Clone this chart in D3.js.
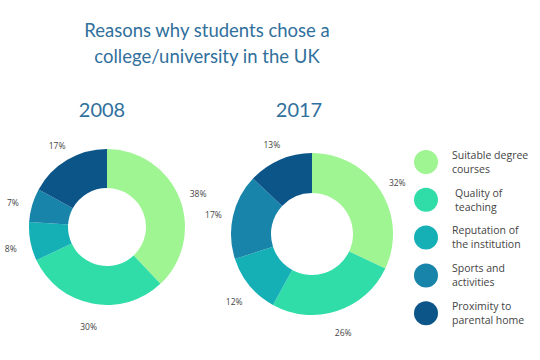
<!DOCTYPE html>
<html>
<head>
<meta charset="utf-8">
<script src="https://cdn.jsdelivr.net/npm/d3@7"></script>
<style>
  body { margin: 0; background: #fff; }
  svg { display: block; }
</style>
</head>
<body>
<script>
var reasons = ["Suitable degree courses", "Quality of teaching", "Reputation of the institution", "Sports and activities", "Proximity to parental home"];
var legendLines = [["Suitable degree", "courses"], ["Quality of", "teaching"], ["Reputation of", "the institution"], ["Sports and", "activities"], ["Proximity to", "parental home"]];
var values2008 = [38, 30, 8, 7, 17];
var values2017 = [32, 26, 12, 17, 13];
var years = ["2008", "2017"];
var colours = ["#9ef592", "#30dca8", "#15b0b6", "#1884aa", "#0c5589"];

var w = 540, h = 360;

var svg = d3.select('body')
            .append('svg')
            .attr('width', w)
            .attr('height', h);

var colour = d3.scaleOrdinal()
               .domain(reasons)
               .range(colours);

// title
svg.append('text')
   .attr('x', 207)
   .attr('y', 37)
   .attr('text-anchor', 'middle')
   .attr('fill', '#30709c')
   .style('font-family', 'Lato')
   .style('font-size', '18.5px')
   .selectAll('tspan')
   .data(["Reasons why students chose a", "college/university in the UK"])
   .enter()
   .append('tspan')
   .attr('x', 207)
   .attr('dy', function(d, i){ return i === 0 ? 0 : 26; })
   .text(function(d){ return d; });

var pie = d3.pie()
            .sort(null)
            .value(function(d){ return d; });

var donuts = [
  { year: years[0], values: values2008, cx: 107, cy: 227, r: 78, inner: 39, yearX: 102 },
  { year: years[1], values: values2017, cx: 312, cy: 234, r: 81, inner: 41, yearX: 299 }
];

donuts.forEach(function(dn){
  var arc = d3.arc()
              .innerRadius(dn.inner)
              .outerRadius(dn.r);
  var labelArc = d3.arc()
                   .innerRadius(dn.r + 20)
                   .outerRadius(dn.r + 20);

  svg.append('text')
     .attr('x', dn.yearX)
     .attr('y', 117)
     .attr('text-anchor', 'middle')
     .attr('fill', '#30709c')
     .style('font-family', 'Lato')
     .style('font-size', '20px')
     .text(dn.year);

  var g = svg.append('g')
             .attr('transform', 'translate(' + dn.cx + ',' + dn.cy + ')');

  var arcs = g.selectAll('g.arc')
              .data(pie(dn.values))
              .enter()
              .append('g')
              .attr('class', 'arc');

  arcs.append('path')
      .attr('fill', function(d, i){ return colour(reasons[i]); })
      .attr('d', arc);

  arcs.append('text')
      .attr('transform', function(d){
        var c = labelArc.centroid(d);
        return 'translate(' + c[0] + ',' + (c[1] + 4) + ')'; })
      .attr('text-anchor', 'middle')
      .attr('dominant-baseline', 'middle')
      .attr('fill', '#444')
      .style('font-family', 'Open Sans')
      .style('font-size', '8.5px')
      .text(function(d){ return d.data + '%'; });
});

// legend
var legend = svg.selectAll('g.legend')
                .data(reasons)
                .enter()
                .append('g')
                .attr('class', 'legend')
                .attr('transform', function(d, i){
                  return 'translate(426,' + (162 + i * 37.8) + ')'; });

legend.append('circle')
      .attr('r', 12)
      .attr('fill', function(d){ return colour(d); });

legend.append('text')
      .attr('x', function(d, i){ return i === 1 ? 29 : 26; })
      .attr('y', -6)
      .attr('fill', '#444')
      .style('font-family', 'Open Sans')
      .style('font-size', '10.5px')
      .selectAll('tspan')
      .data(function(d, i){ return legendLines[i]; })
      .enter()
      .append('tspan')
      .attr('x', function(d, i, nodes){ return d3.select(nodes[i].parentNode).attr('x'); })
      .attr('dy', function(d, i){ return i === 0 ? 0 : 14; })
      .attr('dominant-baseline', 'middle')
      .text(function(d){ return d; });
</script>
</body>
</html>
